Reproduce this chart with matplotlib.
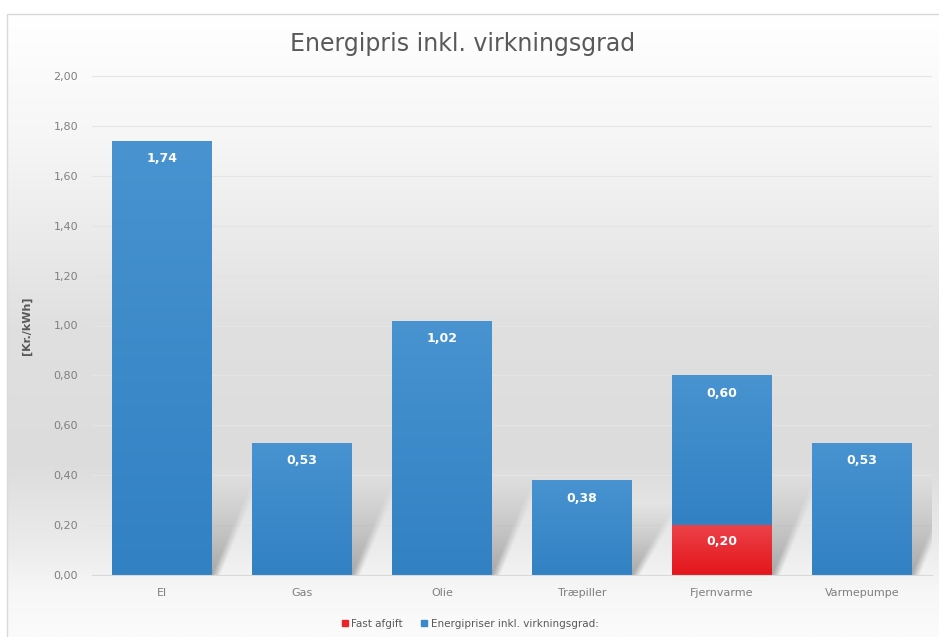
import numpy as np
import matplotlib.pyplot as plt
from matplotlib.patches import Rectangle
from matplotlib.lines import Line2D
from matplotlib.colors import LinearSegmentedColormap

categories = ['El', 'Gas', 'Olie', 'Træpiller', 'Fjernvarme', 'Varmepumpe']
fast_afgift = [0.0, 0.0, 0.0, 0.0, 0.20, 0.0]
energipris = [1.74, 0.53, 1.02, 0.38, 0.60, 0.53]
yticks = [0.0, 0.2, 0.4, 0.6, 0.8, 1.0, 1.2, 1.4, 1.6, 1.8, 2.0]

BLUE = '#3a88c8'
RED = '#e8232a'
TXT = '#595959'
TICK = '#7f7f7f'


def comma(v):
    return f'{v:.2f}'.replace('.', ',')


def gradient_fill(ax, patch, x0, x1, y0, y1, cmap, z):
    """Lodret farveforløb klippet til en patch."""
    grad = np.linspace(0, 1, 256).reshape(-1, 1)
    im = ax.imshow(grad, extent=[x0, x1, y0, y1], origin='lower', aspect='auto',
                   cmap=cmap, zorder=z, interpolation='bicubic')
    im.set_clip_path(patch)
    return im


def soft_shadow(ax, xl, xr, hs, dx, z):
    """Blød, skrå skygge bag en søjle."""
    soft = 0.06
    x0, x1 = xl - soft, xr + dx + soft
    gx, gy = np.meshgrid(np.linspace(x0, x1, 300), np.linspace(0, hs, 200))
    t = gy / hs
    u = gx - dx * t
    edge = np.clip((u - xl) / soft + 0.5, 0, 1) * np.clip((xr - u) / soft + 0.5, 0, 1)
    fade = np.clip(1 - t, 0, 1) ** 1.1
    rgba = np.zeros(gx.shape + (4,))
    rgba[..., :3] = 0.42
    rgba[..., 3] = 0.55 * edge * fade
    ax.imshow(rgba, extent=[x0, x1, 0, hs], origin='lower', aspect='auto',
              zorder=z, interpolation='bilinear')


fig = plt.figure(figsize=(9.39, 6.37), dpi=100)

# baggrund med gråt forløb
bg = fig.add_axes([0, 0, 1, 1])
bg.set_xlim(0, 939)
bg.set_ylim(637, 0)
bg.axis('off')
bg_cmap = LinearSegmentedColormap.from_list(
    'bg', [(0.0, '#ffffff'), (0.2, '#f6f6f6'), (0.5, '#e0e0e0'),
           (0.72, '#dcdcdc'), (0.86, '#ececec'), (0.93, '#f7f7f7'), (1.0, '#fbfbfb')])
bg.imshow(np.linspace(0, 1, 256).reshape(-1, 1), extent=[7, 939, 637, 14],
          origin='upper', aspect='auto', cmap=bg_cmap, zorder=0)
bg.add_patch(Rectangle((7, 14), 940, 640, fill=False, edgecolor='#d9d9d9', lw=1, zorder=1))

ax = fig.add_axes([92 / 939, 62 / 637, 840 / 939, 499 / 637])
ax.patch.set_alpha(0)
x = np.arange(len(categories))
width = 0.71

# skygger bag søjlerne
for xi, fa, en in zip(x, fast_afgift, energipris):
    total = fa + en
    hs = min(0.75 * total, 0.4)
    soft_shadow(ax, xi - width / 2 + 0.03, xi + width / 2 + 0.03, hs, 0.3, 1)

red_bars = ax.bar(x, fast_afgift, width, color=RED, zorder=3, label='Fast afgift')
blue_bars = ax.bar(x, energipris, width, bottom=fast_afgift, color=BLUE, zorder=3,
                   label='Energipriser inkl. virkningsgrad:')

blue_cmap = LinearSegmentedColormap.from_list('b', ['#3281c3', '#4893d0'])
red_cmap = LinearSegmentedColormap.from_list('r', ['#e3161b', '#ec4148'])
for bars, cmap in ((red_bars, red_cmap), (blue_bars, blue_cmap)):
    for b in bars:
        if b.get_height() <= 0:
            continue
        gradient_fill(ax, b, b.get_x(), b.get_x() + b.get_width(),
                      b.get_y(), b.get_y() + b.get_height(), cmap, 4)

# dataetiketter
for xi, fa, en in zip(x, fast_afgift, energipris):
    if fa > 0:
        ax.text(xi, fa - 0.066, comma(fa), ha='center', va='center', color='white',
                fontsize=9, fontweight='bold', zorder=5)
    ax.text(xi, fa + en - 0.072, comma(en), ha='center', va='center', color='white',
            fontsize=9, fontweight='bold', zorder=5)

ax.set_xlim(-0.5, len(categories) - 0.5)
ax.set_ylim(0, 2.0)
ax.set_yticks(yticks)
ax.set_yticklabels([comma(v) for v in yticks])
ax.set_xticks(x)
ax.set_xticklabels(categories)
ax.tick_params(axis='both', length=0, colors=TICK, labelsize=8)
ax.tick_params(axis='y', pad=10)
ax.tick_params(axis='x', pad=9)
ax.grid(axis='y', color='#e4e4e4', lw=0.8, zorder=0.5)
ax.set_axisbelow(True)
for s in ['top', 'right', 'left']:
    ax.spines[s].set_visible(False)
ax.spines['bottom'].set_color('#d9d9d9')
ax.spines['bottom'].set_zorder(6)

ax.set_ylabel('[Kr./kWh]', color=TXT, fontsize=8, fontweight='bold')
ax.yaxis.set_label_coords(-0.071, 0.5)

fig.text(463 / 939, 1 - 44 / 637, 'Energipris inkl. virkningsgrad', ha='center', va='center',
         fontsize=17, color=TXT)

handles = [Line2D([], [], marker='s', ls='none', color=RED, markersize=5),
           Line2D([], [], marker='s', ls='none', color=BLUE, markersize=5)]
leg = ax.legend(handles, ['Fast afgift', 'Energipriser inkl. virkningsgrad:'], loc='center',
                bbox_to_anchor=(470 / 939, 1 - 624 / 637), bbox_transform=fig.transFigure,
                ncol=2, frameon=False, fontsize=7.5, handlelength=0.6, handletextpad=0.3,
                columnspacing=1.8, labelcolor=TXT)

fig.savefig('out.png', dpi=100)
